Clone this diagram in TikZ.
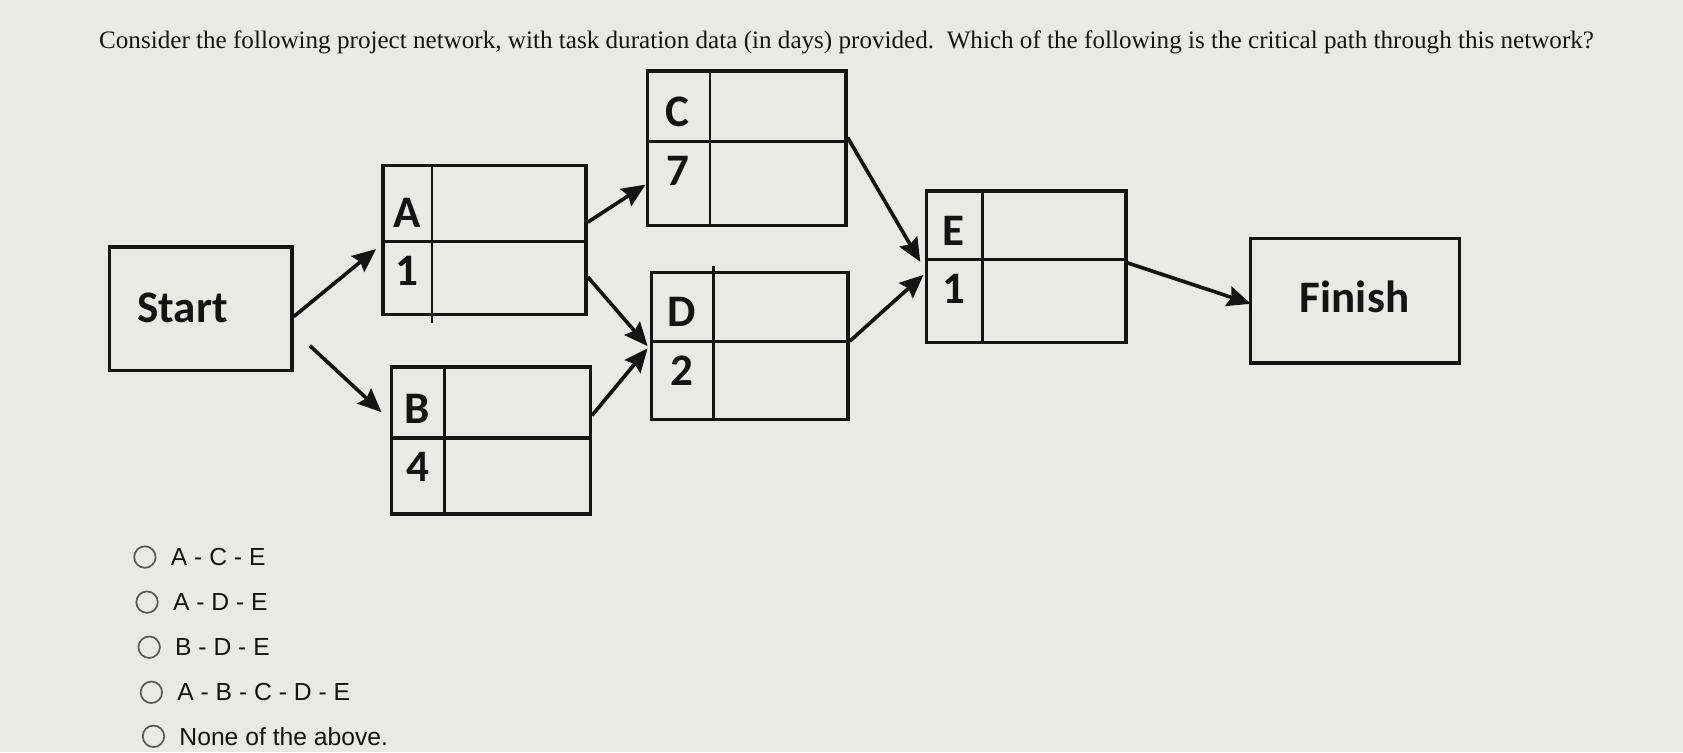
\documentclass[tikz,border=0pt]{standalone}
\usepackage{fontspec}
\setmainfont{Liberation Serif}
\newfontfamily\calibri{Carlito}
\newfontfamily\arial{Liberation Sans}
\usetikzlibrary{arrows.meta,positioning}
\definecolor{paper}{RGB}{233,233,231}
\definecolor{ink}{RGB}{20,20,20}
\tikzset{
  box/.style={draw=ink, line width=1.6pt, inner sep=0pt},
  lbl/.style={font=\calibri\bfseries\fontsize{21}{21}\selectfont, text=ink, inner sep=6.5pt},
  arr/.style={draw=ink, line width=1.7pt, -{Stealth[length=11pt,width=9.5pt,inset=1.5pt]}},
  opt/.style={draw=gray!70!black, circle, line width=0.8pt, minimum size=10pt, inner sep=0pt},
  ans/.style={font=\arial\fontsize{11.5}{12}\selectfont, text=ink, inner sep=0pt}
}
\begin{document}
\begin{tikzpicture}[x=0.5pt,y=-0.5pt]
\fill[paper] (0,0) rectangle (1568,701);
\useasboundingbox (0,0) rectangle (1568,701);
\node[anchor=base west, inner sep=0pt, text=ink, font=\fontsize{11.7}{13}\selectfont] (Q) at (92,45) {Consider the following project network, with task duration data (in days) provided.\ \ Which of the following is the critical path through this network?};
\node[box, minimum width=85pt, minimum height=57.5pt] (Start) at (187,287.5) {};
\node[lbl] (Start-t) at (170,287) {Start};
\node[box, minimum width=97.5pt, minimum height=58pt] (Finish) at (1262.5,280) {};
\node[lbl] (Finish-t) at (1262,277) {Finish};
% name/centre/size/vertical divider/shift of horizontal divider/duration
\foreach \n/\x/\y/\w/\h/\v/\s/\d in {A/451.5/223.5/189/139/47/1.5/1, B/457.5/410.5/185/137/51/-2.5/4, C/695.5/138/185/144/60/-6/7, D/698.5/322.5/183/137/59/-4.5/2, E/956/248.5/186/141/54/-6.5/1}{
  \node[box, minimum width=\w*0.5pt, minimum height=\h*0.5pt] (\n) at (\x,\y) {};
  \draw[ink, line width=1.3pt] ([xshift=\v*0.5pt]\n.north west) -- ([xshift=\v*0.5pt]\n.south west);
  \draw[ink, line width=1.6pt] ([yshift=-\s*0.5pt]\n.west) -- ([yshift=-\s*0.5pt]\n.east);
  \node[lbl, anchor=south] (\n-l) at ([xshift=\v*0.25pt, yshift=-\s*0.5pt]\n.west) {\n};
  \node[lbl, anchor=north] (\n-d) at ([xshift=\v*0.25pt, yshift=-\s*0.5pt]\n.west) {\d};
}
\draw[ink, line width=1.3pt] ([xshift=23.5pt]A.south west) -- ++(0,-3pt) ([xshift=29.5pt]D.north west) -- ++(0,2.5pt);
\draw[arr] ([yshift=-3.75pt]Start.east) -- ([xshift=-2.5pt,yshift=-4.25pt]A.west);
\draw[arr] ([xshift=7.5pt,yshift=-17.25pt]Start.east) -- ([xshift=-4pt,yshift=13.25pt]B.west);
\draw[arr] ([yshift=8.25pt]A.east) -- ([yshift=-17pt]C.west);
\draw[arr] ([yshift=-17.25pt]A.east) -- ([xshift=-1pt]D.west);
\draw[arr] ([yshift=11.75pt]B.east) -- ([xshift=-1pt,yshift=-1pt]D.west);
\draw[arr] ([yshift=5pt]C.east) -- ([xshift=-2pt,yshift=2.25pt]E.west);
\draw[arr] ([yshift=2.25pt]D.east) -- ([xshift=-0.5pt,yshift=-3.75pt]E.west);
\draw[arr] ([yshift=1.75pt]E.east) -- ([xshift=1pt,yshift=-1.5pt]Finish.west);
\foreach \i/\x/\y/\t in {1/135/519/A - C - E, 2/137/561/A - D - E, 3/139/603/B - D - E, 4/141/645/A - B - C - D - E, 5/143/686/None of the above.}{
  \node[opt] (o\i) at (\x,\y) {};
  \node[ans, right=6.5pt of o\i] (t\i) {\t};
}
\end{tikzpicture}
\end{document}
